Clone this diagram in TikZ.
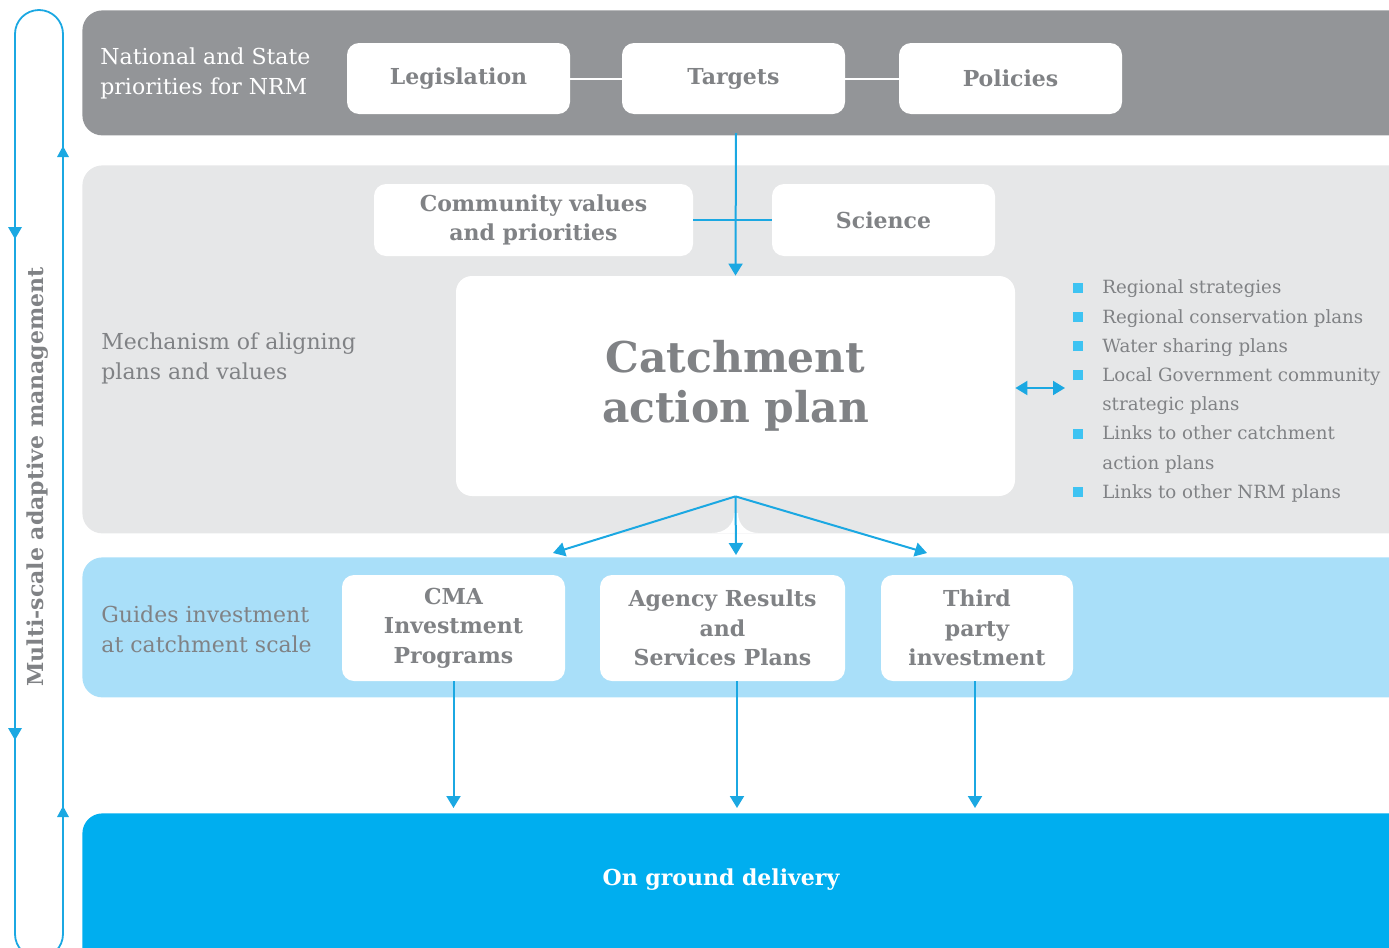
\documentclass[tikz,border=0pt]{standalone}
\usepackage{fontspec}
\setmainfont{DejaVu Serif}
\usetikzlibrary{arrows.meta}
\definecolor{dgrey}{HTML}{939598}
\definecolor{lgrey}{HTML}{E6E7E8}
\definecolor{lblue}{HTML}{A9DFF9}
\definecolor{dblue}{HTML}{00AEEF}
\definecolor{lineblue}{HTML}{1BA8E2}
\definecolor{txtgrey}{HTML}{808285}
\definecolor{sqblue}{HTML}{3EC3F2}
\newcommand{\bsq}{\textcolor{sqblue}{\rule[0.6pt]{5pt}{5pt}}}
\tikzset{
  band/.style={rounded corners=10pt, draw=none, anchor=north west, inner sep=0pt},
  wbox/.style={fill=white, rounded corners=6pt, draw=none, inner sep=0pt, align=center,
     text=txtgrey, font=\bfseries\fontsize{11}{14.75}\selectfont},
  bandlabel/.style={anchor=west, align=left, inner sep=0pt, font=\fontsize{11}{15}\selectfont, text=txtgrey},
  conn/.style={draw=lineblue, line width=1pt, -{Triangle[width=7pt,length=6pt]}},
  plainconn/.style={draw=lineblue, line width=1pt},
  whiteconn/.style={draw=white, line width=1pt},
  looparrow/.style={fill=lineblue},
}
\begin{document}
\begin{tikzpicture}[x=0.5pt,y=-0.5pt]
\useasboundingbox (0,0) rectangle (1389,948);
\clip (0,0) rectangle (1389,948);
% bands
\node[band, fill=dgrey, minimum width=680pt, minimum height=62.5pt] (topband) at (82,10) {};
\node[band, fill=lgrey, minimum width=680pt, minimum height=184pt] (midband) at (82,165) {};
\fill[white] (712,533) .. controls (725,533) and (734,525) .. (734,513) -- (738,513) .. controls (738,525) and (747,533) .. (758,533) -- cycle;
\node[band, fill=lblue, minimum width=680pt, minimum height=70pt] (invband) at (82,557) {};
\node[band, fill=dblue, minimum width=680pt, minimum height=85pt] (ground) at (82,813) {};
% loop
\draw[lineblue, line width=0.9pt, rounded corners=12pt] (15,958) rectangle (63,10);
\fill[looparrow] (8,227) -- (22,227) -- (15,239) -- cycle;
\fill[looparrow] (8,728) -- (22,728) -- (15,740) -- cycle;
\fill[looparrow] (57,157) -- (69,157) -- (63,146) -- cycle;
\fill[looparrow] (57,817) -- (69,817) -- (63,806) -- cycle;
\node[rotate=90, text=txtgrey, font=\bfseries\fontsize{11}{14}\selectfont] (loopl) at (38,477) {Multi-scale adaptive management};
% labels
\node[bandlabel, text=white] (natl) at (100,73) {National and State\\priorities for NRM};
\node[bandlabel] (mech) at (101,358) {Mechanism of aligning\\plans and values};
\node[bandlabel] (guid) at (101,629) {Guides investment\\at catchment scale};
% top boxes
\node[wbox, minimum width=111.5pt, minimum height=35.5pt] (leg) at (458.5,78.5) {Legislation};
\node[wbox, minimum width=111.5pt, minimum height=35.5pt] (tgt) at (733.5,78.5) {Targets};
\node[wbox, minimum width=111.5pt, minimum height=35.5pt] (pol) at (1010.5,78.5) {Policies};
\draw[whiteconn] (leg) -- (tgt);
\draw[whiteconn] (tgt) -- (pol);
% middle
\node[wbox, minimum width=159.5pt, minimum height=36pt] (comm) at (533.5,220) {Community values\\and priorities};
\node[wbox, minimum width=111.5pt, minimum height=36pt] (sci) at (883.5,220) {Science};
\draw[plainconn] (comm) -- (sci);
\node[wbox, rounded corners=8pt, minimum width=279.5pt, minimum height=110pt, font=\bfseries\fontsize{21.2}{25}\selectfont] (cap) at (735.5,386) {Catchment\\action plan};
\draw[conn] (736,133) -- (cap.north);
% list
\coordinate (lst) at (1065,388);
\draw[plainconn, {Triangle[width=7pt,length=6pt]}-{Triangle[width=7pt,length=6pt]}] (cap.east |- lst) -- (lst);
\node[anchor=north west, inner sep=0pt, text=txtgrey, font=\fontsize{9.1}{14.6}\selectfont] (list) at (1073,273) {%
\begin{tabular}{@{}l@{\hspace{9.5pt}}l@{}}
\bsq & Regional strategies\\
\bsq & Regional conservation plans\\
\bsq & Water sharing plans\\
\bsq & Local Government community\\
 & strategic plans\\
\bsq & Links to other catchment\\
 & action plans\\
\bsq & Links to other NRM plans
\end{tabular}};
% investment boxes
\node[wbox, minimum width=111.5pt, minimum height=53pt] (cma) at (453.5,628) {CMA\\Investment\\Programs};
\node[wbox, minimum width=122.5pt, minimum height=53pt] (agy) at (722.5,628) {Agency Results\\and\\Services Plans};
\node[wbox, minimum width=96pt, minimum height=53pt] (thp) at (977,628) {Third\\party\\investment};
\coordinate (e1) at (553,553);
\coordinate (e2) at (736,555);
\coordinate (e3) at (927,553);
\draw[conn] (cap.south) -- (e1);
\draw[conn] (cap.south) -- (e2);
\draw[conn] (cap.south) -- (e3);
\draw[conn, shorten >=2.5pt] (cma.south) -- (cma.south |- ground.north);
\draw[conn, shorten >=2.5pt] (agy.south -| 737,0) -- (737,813);
\draw[conn, shorten >=2.5pt] (thp.south -| 975,0) -- (975,813);
\node[text=white, font=\bfseries\fontsize{11}{14}\selectfont] (gtext) at (721,880) {On ground delivery};
\end{tikzpicture}
\end{document}
